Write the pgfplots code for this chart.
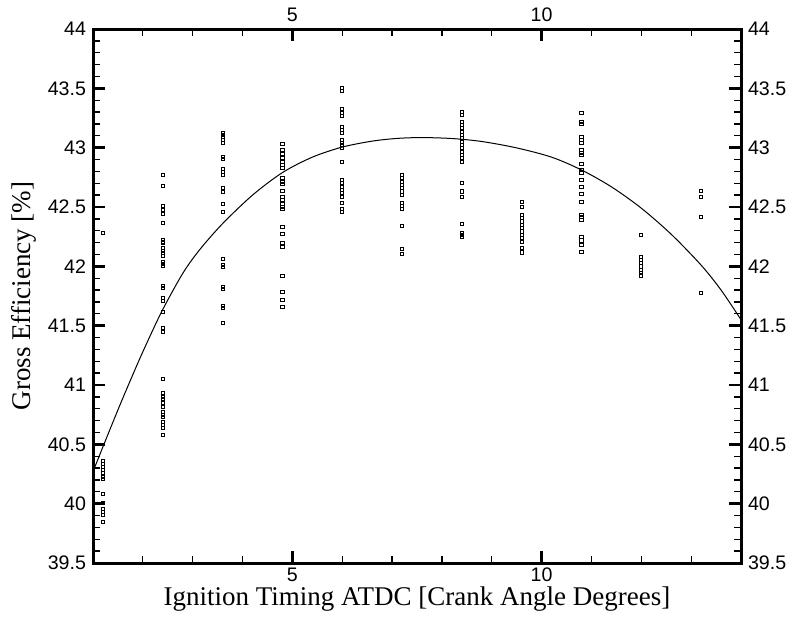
\documentclass[border=0pt]{standalone}
\usepackage{fontspec}
\setmainfont{Liberation Serif}
\setsansfont{Liberation Sans}
\usepackage{pgfplots}
\pgfplotsset{compat=1.18}
\usetikzlibrary{calc}

\pgfplotsset{
  commonstyle/.style={
    scale only axis,
    width=324pt, height=267pt,
    at={(0,0)}, anchor=south west,
    xmin=1, xmax=14, ymin=39.5, ymax=44,
    xtick={5,10},
    minor xtick={2,3,4,6,7,8,9,11,12,13},
    ytick={39.5,40,40.5,41,41.5,42,42.5,43,43.5,44},
    minor y tick num=4,
    tick align=inside,
    major tick length=6pt,
    minor tick length=3.5pt,
    major tick style={line width=1.3pt, black},
    minor tick style={line width=0.65pt, black},
    axis line style={line width=1.5pt},
    /pgf/number format/assume math mode=true,
    tick label style={font=\sffamily\fontsize{9.8}{11}\selectfont},
    xtick pos=both, ytick pos=both,
  }
}

\begin{document}
\begin{tikzpicture}
\begin{axis}[commonstyle,
  xticklabel pos=lower, yticklabel pos=left,
  xticklabel style={yshift=1pt},
  xlabel={Ignition Timing ATDC [Crank Angle Degrees]},
  ylabel={Gross Efficiency [\%]},
  label style={font=\fontsize{13.5}{15}\selectfont},
  xlabel style={at={(axis description cs:0.5,0)}, anchor=base, yshift=-21pt, inner sep=0pt},
  ylabel style={yshift=-1pt},
  clip=true,
]
\coordinate (sw) at (rel axis cs:0,0);
\coordinate (ne) at (rel axis cs:1,1);
% scatter data
\addplot[only marks, mark=square, mark size=0.8pt, mark options={line width=0.5pt, black, fill=white}] coordinates {
(1.2,42.278)(1.2,40.36)(1.2,40.332)(1.2,40.306)(1.2,40.284)(1.2,40.261)(1.2,40.228)(1.2,40.205)(1.2,40.079)(1.2,40.008)(1.2,39.952)(1.2,39.93)(1.2,39.905)(1.2,39.848)
(2.4,42.767)(2.4,42.677)(2.4,42.508)(2.4,42.475)(2.4,42.438)(2.4,42.368)(2.4,42.222)(2.4,42.208)(2.4,42.194)(2.4,42.152)(2.4,42.132)(2.4,42.11)(2.4,42.09)(2.4,42.039)(2.4,42.02)(2.4,42.003)(2.4,41.834)(2.4,41.82)(2.4,41.73)(2.4,41.711)(2.4,41.618)(2.4,41.483)(2.4,41.449)(2.4,41.048)(2.4,40.935)(2.4,40.902)(2.4,40.879)(2.4,40.851)(2.4,40.817)(2.4,40.775)(2.4,40.747)(2.4,40.728)(2.4,40.691)(2.4,40.663)(2.4,40.635)(2.4,40.579)
(3.6,43.126)(3.6,43.107)(3.6,43.087)(3.6,43.065)(3.6,43.037)(3.6,42.919)(3.6,42.902)(3.6,42.817)(3.6,42.798)(3.6,42.77)(3.6,42.657)(3.6,42.624)(3.6,42.525)(3.6,42.458)(3.6,42.059)(3.6,42.011)(3.6,41.997)(3.6,41.823)(3.6,41.806)(3.6,41.669)(3.6,41.652)(3.6,41.525)
(4.8,43.028)(4.8,42.98)(4.8,42.944)(4.8,42.91)(4.8,42.882)(4.8,42.854)(4.8,42.826)(4.8,42.747)(4.8,42.713)(4.8,42.691)(4.8,42.638)(4.8,42.587)(4.8,42.559)(4.8,42.525)(4.8,42.503)(4.8,42.48)(4.8,42.329)(4.8,42.27)(4.8,42.194)(4.8,42.16)(4.8,41.919)(4.8,41.787)(4.8,41.716)(4.8,41.66)
(6.0,43.5)(6.0,43.48)(6.0,43.323)(6.0,43.29)(6.0,43.27)(6.0,43.177)(6.0,43.149)(6.0,43.121)(6.0,43.065)(6.0,43.042)(6.0,43.023)(6.0,42.995)(6.0,42.882)(6.0,42.728)(6.0,42.7)(6.0,42.671)(6.0,42.644)(6.0,42.616)(6.0,42.587)(6.0,42.532)(6.0,42.481)(6.0,42.456)
(7.2,42.77)(7.2,42.742)(7.2,42.714)(7.2,42.686)(7.2,42.658)(7.2,42.63)(7.2,42.601)(7.2,42.532)(7.2,42.509)(7.2,42.481)(7.2,42.34)(7.2,42.144)(7.2,42.102)
(8.4,43.298)(8.4,43.275)(8.4,43.219)(8.4,43.191)(8.4,43.163)(8.4,43.135)(8.4,43.107)(8.4,43.079)(8.4,43.051)(8.4,43.023)(8.4,42.995)(8.4,42.966)(8.4,42.938)(8.4,42.911)(8.4,42.882)(8.4,42.7)(8.4,42.63)(8.4,42.587)(8.4,42.357)(8.4,42.284)(8.4,42.265)(8.4,42.245)
(9.6,42.54)(9.6,42.503)(9.6,42.433)(9.6,42.405)(9.6,42.377)(9.6,42.349)(9.6,42.321)(9.6,42.293)(9.6,42.265)(9.6,42.237)(9.6,42.208)(9.6,42.152)(9.6,42.116)
(10.8,43.295)(10.8,43.219)(10.8,43.197)(10.8,43.088)(10.8,43.065)(10.8,43.042)(10.8,42.981)(10.8,42.958)(10.8,42.938)(10.8,42.86)(10.8,42.812)(10.8,42.79)(10.8,42.728)(10.8,42.666)(10.8,42.607)(10.8,42.545)(10.8,42.433)(10.8,42.414)(10.8,42.391)(10.8,42.245)(10.8,42.217)(10.8,42.18)(10.8,42.119)
(12.0,42.267)(12.0,42.082)(12.0,42.054)(12.0,42.026)(12.0,41.998)(12.0,41.97)(12.0,41.942)(12.0,41.922)
(13.2,42.635)(13.2,42.587)(13.2,42.419)(13.2,41.778)
};
% fitted curve
\addplot[black, line width=0.5pt, smooth, tension=0.5] coordinates {
(1.0,40.27)(1.2,40.48)(1.5,40.79)(1.71,41.0)(2.0,41.28)(2.38,41.62)(2.8,41.94)(3.14,42.14)(3.6,42.36)(4.2,42.6)(4.8,42.79)(5.4,42.92)(6.0,43.005)(6.6,43.055)(7.1,43.078)(7.6,43.085)(8.2,43.077)(8.8,43.052)(9.5,42.998)(10.2,42.92)(10.8,42.812)(11.4,42.67)(12.0,42.49)(12.6,42.27)(13.2,42.01)(13.6,41.80)(14.0,41.55)
};
\end{axis}
\begin{axis}[commonstyle,
  xticklabel pos=upper, yticklabel pos=right,
  axis line style={draw=none},
  major tick style={draw=none}, minor tick style={draw=none},
]
\addplot[draw=none] coordinates {(5,42)};
\end{axis}
\pgfresetboundingbox
\path[use as bounding box] ($(sw)+(-46.5pt,-28.5pt)$) rectangle ($(ne)+(27.5pt,14.5pt)$);
\end{tikzpicture}
\end{document}
